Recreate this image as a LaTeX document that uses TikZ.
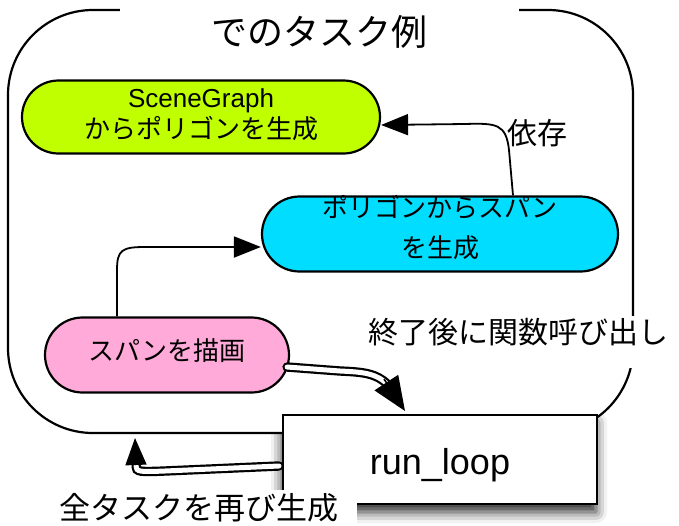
\documentclass[tikz,border=0pt]{standalone}
\usepackage{fontspec}
\setmainfont{Liberation Sans}
\newfontfamily\jp{Noto Sans CJK JP}
\usetikzlibrary{shapes.misc,arrows.meta,shadows.blur}
\definecolor{limefill}{RGB}{192,255,0}
\definecolor{cyanfill}{RGB}{0,221,255}
\definecolor{pinkfill}{RGB}{255,170,216}
\newcommand{\myline}[2]{\makebox[0pt]{\raisebox{#1}[0pt][0pt]{#2}}}
\begin{document}
\begin{tikzpicture}[x=1pt,y=-1pt,
  pill/.style={rounded rectangle, draw=black, line width=2.2pt, inner sep=0pt,
    font=\fontsize{26}{30}\selectfont},
  conn/.style={draw=black, line width=1.8pt, -{Triangle[length=27pt,width=21pt,fill=black]}},
  dbl/.style={draw=black, line width=2.2pt, double=white, double distance=5pt, line cap=round},
  bigtip/.style={draw=black, line width=1.6pt, -{Triangle[length=34pt,width=28pt,fill=black]}},
  uptip/.style={draw=black, line width=1.6pt, -{Triangle[length=27pt,width=21pt,fill=black]}},
  lbl/.style={fill=white, inner sep=0pt, font=\jp\fontsize{30}{36}\selectfont},
]
\useasboundingbox (0,0) rectangle (679,525);
% shadow of the run_loop box
\path[blur shadow={shadow xshift=-1pt, shadow yshift=-8pt, shadow blur radius=11pt, shadow opacity=85}]
  (283,415) rectangle (597,504);
% frame
\draw[line width=2.2pt, fill=white, rounded corners=85pt] (8,10) rectangle (633,433);
% nodes
\node[pill, fill=limefill, minimum width=358pt, minimum height=73pt] (sg) at (201,117)
  {\myline{9.6pt}{SceneGraph}\myline{-21pt}{\jp からポリゴンを生成}};
\node[pill, fill=cyanfill, minimum width=356pt, minimum height=75pt] (cy) at (440,234)
  {\myline{17pt}{\jp ポリゴンからスパン}\myline{-23pt}{\jp を生成}};
\node[pill, fill=pinkfill, minimum width=244pt, minimum height=75pt] (pi) at (167,355)
  {\myline{-5pt}{\jp スパンを描画}};
\node[draw=black, fill=white, line width=2pt, minimum width=314pt, minimum height=89pt, inner sep=0pt,
  font=\fontsize{36}{40}\selectfont] (rl) at (440,459.5) {\myline{-14.5pt}{run\_loop}};
% labels
\node[fill=white, inner sep=0pt, minimum width=399pt, minimum height=50pt,
  font=\jp\fontsize{36}{40}\selectfont] (title) at (319.5,30) {\myline{-15.7pt}{でのタスク例}};
\node[inner sep=0pt, font=\jp\fontsize{30}{36}\selectfont] (dep) at (537,133) {依存};
\node[lbl, minimum width=307pt, minimum height=52pt] (fin) at (518.5,342) {\myline{-1.4pt}{終了後に関数呼び出し}};
\node[lbl, font=\jp\fontsize{31}{36}\selectfont, minimum width=316pt, minimum height=36pt] (again) at (199,508) {全タスクを再び生成};
% connectors
\coordinate (frametip) at (135,438);
\draw[conn] ([xshift=-50pt]pi.north) -- (117,270) .. controls (117,250) and (122,247) .. (145,247) -- ([yshift=-13pt]cy.west);
\draw[conn] ([xshift=73pt]cy.north) -- (509,150) .. controls (506,124) and (497,123) .. (465,124) -- ([yshift=-8pt]sg.east);
\draw[dbl] ([xshift=-3pt,yshift=-12pt]pi.east) -- (340,371) .. controls (362,372) and (377,373) .. (388,385);
\draw[bigtip] (384,379) -- ([xshift=-35pt,yshift=3pt]rl.north);
\draw[dbl] ([xshift=-3pt,yshift=-6.5pt]rl.west) -- (165,471) .. controls (140,472) and (136,472) .. (136,466);
\draw[uptip] (136,465) -- (frametip);
\end{tikzpicture}
\end{document}
